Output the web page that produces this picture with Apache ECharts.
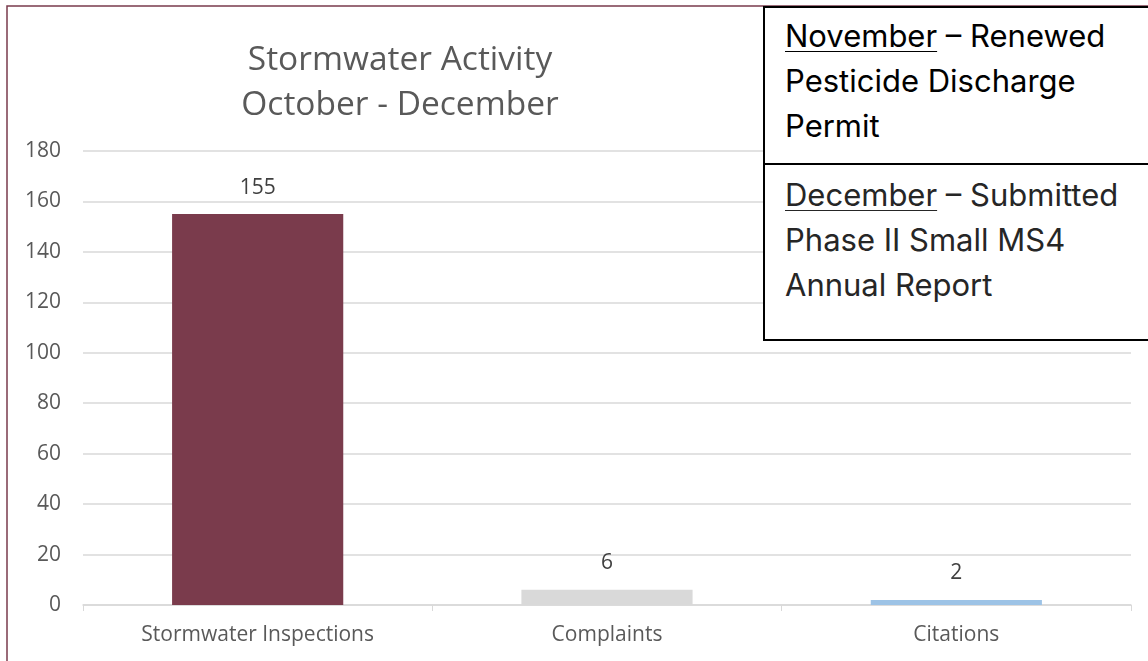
<!DOCTYPE html>
<html>
<head>
<meta charset="utf-8">
<script src="https://cdn.jsdelivr.net/npm/echarts@6/dist/echarts.min.js"></script>
<style>
  html, body { margin: 0; padding: 0; background: #fff; }
  #wrap { position: relative; width: 1148px; height: 661px; overflow: hidden; }
  #chart { width: 1148px; height: 661px; }
  #note {
    position: absolute; left: 763px; top: 6px; width: 400px; height: 335px;
    border: 2px solid #000; background: #fff; box-sizing: border-box;
    font-family: Inter, "Noto Sans", sans-serif; font-size: 31px; line-height: 45px;
  }
  #note .cell { padding-left: 20px; }
  #note .top { height: 157px; border-bottom: 2px solid #000; color: #000; padding-top: 5px; box-sizing: border-box; }
  #note .bottom { color: #262626; padding-top: 7px; }
  #note u { text-decoration-thickness: 1px; text-underline-offset: 4px; }
</style>
</head>
<body>
<div id="wrap">
  <div id="chart"></div>
  <div id="note">
    <div class="cell top"><u>November</u> – Renewed<br>Pesticide Discharge<br>Permit</div>
    <div class="cell bottom"><u>December</u> – Submitted<br>Phase II Small MS4<br>Annual Report</div>
  </div>
</div>
<script>
const categories = ['Stormwater Inspections', 'Complaints', 'Citations'];
const counts = [155, 6, 2];
const barColors = ['#7A3B4C', '#D9D9D9', '#9DC3E6'];

const chart = echarts.init(document.getElementById('chart'));
const option = {
  animation: false,
  textStyle: { fontFamily: '"Open Sans", sans-serif' },
  title: {
    text: 'Stormwater Activity\nOctober - December',
    left: 395,
    top: 33,
    textAlign: 'center',
    textStyle: { fontSize: 33.5, fontWeight: 'normal', color: '#595959', lineHeight: 45 }
  },
  graphic: [{
    type: 'rect',
    shape: { x: 7, y: 6, width: 1200, height: 700 },
    style: { fill: 'none', stroke: '#7A3B4C', lineWidth: 1.5 },
    z: 100
  }],
  grid: { left: 83, right: 17, top: 151, bottom: 56 },
  xAxis: {
    type: 'category',
    data: categories,
    axisLine: { lineStyle: { color: '#D9D9D9', width: 1.5 } },
    axisTick: { show: true, length: 6, lineStyle: { color: '#D9D9D9' } },
    axisLabel: { fontSize: 21, color: '#595959', margin: 20 }
  },
  yAxis: {
    type: 'value',
    min: 0,
    max: 180,
    interval: 20,
    axisLine: { show: false },
    axisTick: { show: false },
    axisLabel: { fontSize: 21, color: '#595959', margin: 22 },
    splitLine: { lineStyle: { color: '#D9D9D9', width: 1.5 } }
  },
  series: [{
    type: 'bar',
    barWidth: '49%',
    data: counts.map((v, i) => ({ value: v, itemStyle: { color: barColors[i] } })),
    label: { show: true, position: 'top', distance: 16, fontSize: 21, color: '#404040' }
  }]
};
chart.setOption(option);
</script>
</body>
</html>
